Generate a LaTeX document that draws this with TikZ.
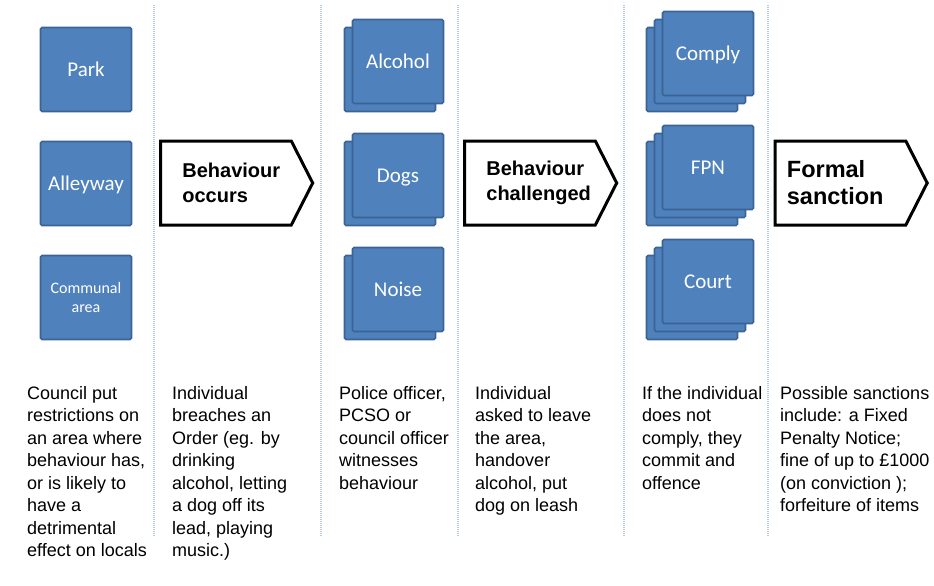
\documentclass[tikz,border=0pt]{standalone}
\usepackage{fontspec}
\setmainfont{Liberation Sans}
\newfontfamily\boxfont{Carlito}
\usetikzlibrary{shapes.symbols}
\definecolor{boxblue}{HTML}{4F81BD}
\definecolor{boxedge}{HTML}{3B6494}
\definecolor{rulegrey}{HTML}{B7C8E4}
\tikzset{
    area-box/.style = {draw=boxedge, fill=boxblue, line width=1.6pt, rectangle, rounded corners=1.5pt, minimum width=91pt, minimum height=84pt, inner sep=0pt, text=white, font=\boxfont\fontsize{21}{25}\selectfont, align=center, text height=13.5pt, text depth=0pt},
    step-arrow/.style = {draw=black, fill=white, line width=3pt, signal, signal to=east, signal pointer angle=126, minimum width=152pt, minimum height=84pt, inner sep=0pt},
    step-text/.style = {anchor=west, inner sep=0pt, align=left, font=\bfseries\fontsize{20}{25}\selectfont},
    note-text/.style = {anchor=north west, inner sep=0pt, align=left, font=\fontsize{18}{22.5}\selectfont},
    divider/.style = {draw=rulegrey, line width=1.2pt, dash pattern=on 1pt off 1pt},
}

\begin{document}
\begin{tikzpicture}[x=1pt, y=-1pt]
\useasboundingbox (0,0) rectangle (934,586);
% column dividers
\foreach \xpos in {154,321,458,624,768}
    \draw[divider] (\xpos,5) -- (\xpos,536);

% places
\node[area-box] (park) at (86,69.5) {Park};
\node[area-box] (alleyway) at (86,183.5) {Alleyway};
\node[area-box, text height=, text depth=, font=\boxfont\fontsize{16}{19}\selectfont] (communal) at (86,297.5) {Communal\\area};

% behaviours, two deep
\node[area-box] (alcohol-back) at (390,69.5) {};
\node[area-box] (alcohol) at (398,61.5) {Alcohol};
\node[area-box] (dogs-back) at (390,183.5) {};
\node[area-box] (dogs) at (398,175.5) {Dogs};
\node[area-box] (noise-back) at (390,297.5) {};
\node[area-box] (noise) at (398,289.5) {Noise};

% outcomes, three deep
\node[area-box] (comply-back) at (692,69.5) {};
\node[area-box] (comply-mid) at (700,61.5) {};
\node[area-box] (comply) at (708,53.5) {Comply};
\node[area-box] (fpn-back) at (692,183.5) {};
\node[area-box] (fpn-mid) at (700,175.5) {};
\node[area-box] (fpn) at (708,167.5) {FPN};
\node[area-box] (court-back) at (692,297.5) {};
\node[area-box] (court-mid) at (700,289.5) {};
\node[area-box] (court) at (708,281.5) {Court};

% stages
\node[step-arrow] (occurs) at (226,183) {};
\node[step-text] (occurs-text) at ([xshift=23pt]occurs.west) {Behaviour\\occurs};
\node[step-arrow] (challenged) at (530,183) {};
\node[step-text] (challenged-text) at ([xshift=23pt]challenged.west) {Behaviour\\challenged};
\node[step-arrow] (sanction) at (840.5,183) {};
\node[step-text, font=\bfseries\fontsize{23.5}{27}\selectfont] (sanction-text) at ([xshift=13pt]sanction.west) {Formal\\sanction};

% notes under each column
\node[note-text] (note-council) at (27,386) {Council put\\restrictions on\\an area where\\behaviour has,\\or is likely to\\have a\\detrimental\\effect on locals};
\node[note-text] (note-breach) at (172,386) {Individual\\breaches an\\Order (eg. by\\drinking\\alcohol, letting\\a dog off its\\lead, playing\\music.)};
\node[note-text] (note-witness) at (339,386) {Police officer,\\PCSO or\\council officer\\witnesses\\behaviour};
\node[note-text] (note-asked) at (475,386) {Individual\\asked to leave\\the area,\\handover\\alcohol, put\\dog on leash};
\node[note-text] (note-offence) at (642,386) {If the individual\\does not\\comply, they\\commit and\\offence};
\node[note-text] (note-sanction) at (780,386) {Possible sanctions\\include: a Fixed\\Penalty Notice;\\fine of up to £1000\\(on conviction );\\forfeiture of items};
\end{tikzpicture}
\end{document}
